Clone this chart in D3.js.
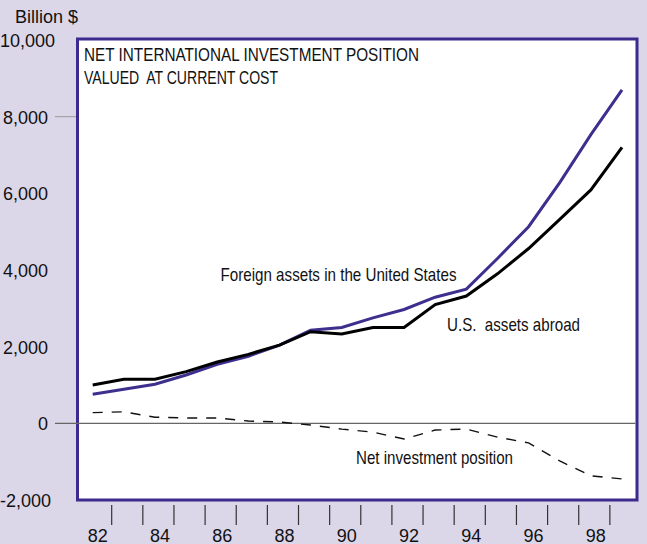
<!DOCTYPE html>
<html>
<head>
<meta charset="utf-8">
<script src="https://cdn.jsdelivr.net/npm/d3@7"></script>
<style>
  body { margin: 0; background: #dcd6e9; }
  svg { display: block; }
  text { font-family: "Liberation Sans", Arial, Helvetica, sans-serif; fill: #111; }
  .narrow { font-family: "Liberation Sans Narrow", "Arial Narrow", "Liberation Sans", Arial, sans-serif; white-space: pre; }
</style>
</head>
<body>
<div id="chart"></div>
<script>
// Years on the x axis
const years = [1982, 1983, 1984, 1985, 1986, 1987, 1988, 1989, 1990,
               1991, 1992, 1993, 1994, 1995, 1996, 1997, 1998, 1999]

// Billion $
const usAssetsAbroad = [1000, 1150, 1150, 1350, 1600, 1800, 2040, 2390, 2330,
                        2500, 2500, 3100, 3320, 3900, 4560, 5320, 6090, 7200]
const foreignAssetsInUS = [760, 890, 1020, 1260, 1540, 1750, 2040, 2430, 2500,
                           2750, 2970, 3290, 3500, 4300, 5130, 6280, 7530, 8700]
const netPosition = [280, 300, 160, 140, 140, 60, 35, -45, -150,
                     -230, -410, -175, -150, -360, -510, -980, -1370, -1450]

const yTickValues = [10000, 8000, 6000, 4000, 2000, 0, -2000]
const xLabelYears = [1982, 1984, 1986, 1988, 1990, 1992, 1994, 1996, 1998]
const xTickYears = d3.range(1982, 1999)

function drawChart() {
    const dimensions = {
        width: 647,
        height: 544,
        frame: { left: 77.5, top: 39, right: 637, bottom: 500 }
    }

    const wrapper = d3.select("#chart").append("svg")
        .attr("width", dimensions.width)
        .attr("height", dimensions.height)

    // Scales
    const xScale = d3.scaleLinear()
        .domain([1982, 1999])
        .range([92.7, 622])

    const yScale = d3.scaleLinear()
        .domain([-2000, 10000])
        .range([500, 40])

    // Plot frame
    wrapper.append("rect")
        .attr("x", dimensions.frame.left)
        .attr("y", dimensions.frame.top)
        .attr("width", dimensions.frame.right - dimensions.frame.left)
        .attr("height", dimensions.frame.bottom - dimensions.frame.top)
        .attr("fill", "#fff")
        .attr("stroke", "#3a2b8c")
        .attr("stroke-width", 3)

    // Zero line and the short tick at 8,000
    wrapper.append("line")
        .attr("x1", 55).attr("x2", dimensions.frame.right - 1.5)
        .attr("y1", yScale(0)).attr("y2", yScale(0))
        .attr("stroke", "#666")
        .attr("stroke-width", 1.2)

    wrapper.append("line")
        .attr("x1", 55).attr("x2", dimensions.frame.left - 1.5)
        .attr("y1", yScale(8000)).attr("y2", yScale(8000))
        .attr("stroke", "#999")
        .attr("stroke-width", 1)

    // Y labels, right aligned but kept inside the left edge
    wrapper.append("g")
        .selectAll("text")
        .data(yTickValues)
        .join("text")
        .attr("x", 48)
        .attr("y", d => yScale(d) + 7)
        .attr("text-anchor", "end")
        .style("font-size", "18px")
        .text(d => (d < 0 ? "-" : "") + d3.format(",")(Math.abs(d)))
        .each(function() {
            const w = this.getComputedTextLength()
            if (48 - w < 0) d3.select(this).attr("x", 0).attr("text-anchor", "start")
        })

    wrapper.append("text")
        .attr("x", 15)
        .attr("y", 22.5)
        .style("font-size", "18px")
        .text("Billion $")

    // X ticks sit between the years, labels on every other year
    wrapper.append("g")
        .selectAll("line")
        .data(xTickYears)
        .join("line")
        .attr("x1", d => xScale(d + 0.61))
        .attr("x2", d => xScale(d + 0.61))
        .attr("y1", 505)
        .attr("y2", 525)
        .attr("stroke", "#333")
        .attr("stroke-width", 1.2)

    wrapper.append("g")
        .selectAll("text")
        .data(xLabelYears)
        .join("text")
        .attr("x", d => xScale(d + 0.16))
        .attr("y", 541.5)
        .attr("text-anchor", "middle")
        .style("font-size", "18px")
        .text(d => String(d).slice(2))

    // Lines
    const lineFor = values => d3.line()
        .x((d, i) => xScale(years[i]))
        .y(d => yScale(d))(values)

    wrapper.append("path")
        .attr("d", lineFor(netPosition))
        .attr("fill", "none")
        .attr("stroke", "#111")
        .attr("stroke-width", 1.4)
        .attr("stroke-dasharray", "10,9")

    wrapper.append("path")
        .attr("d", lineFor(foreignAssetsInUS))
        .attr("fill", "none")
        .attr("stroke", "#3d2f8e")
        .attr("stroke-width", 3)

    wrapper.append("path")
        .attr("d", lineFor(usAssetsAbroad))
        .attr("fill", "none")
        .attr("stroke", "#000")
        .attr("stroke-width", 3)

    // Texts in the plot
    const labels = [
        { text: "NET INTERNATIONAL INVESTMENT POSITION", x: 84, y: 61, w: 335, size: 19 },
        { text: "VALUED  AT CURRENT COST", x: 84, y: 84, w: 194, size: 19 },
        { text: "Foreign assets in the United States", x: 220.5, y: 280.5, w: 236, size: 18.5 },
        { text: "U.S.  assets abroad", x: 447, y: 331, w: 133, size: 18.5 },
        { text: "Net investment position", x: 356, y: 463.5, w: 157, size: 18.5 }
    ]

    wrapper.append("g")
        .selectAll("text")
        .data(labels)
        .join("text")
        .attr("class", "narrow")
        .attr("x", d => d.x)
        .attr("y", d => d.y)
        .attr("textLength", d => d.w)
        .attr("lengthAdjust", "spacingAndGlyphs")
        .style("font-size", d => d.size + "px")
        .text(d => d.text)
}

drawChart()
</script>
</body>
</html>
